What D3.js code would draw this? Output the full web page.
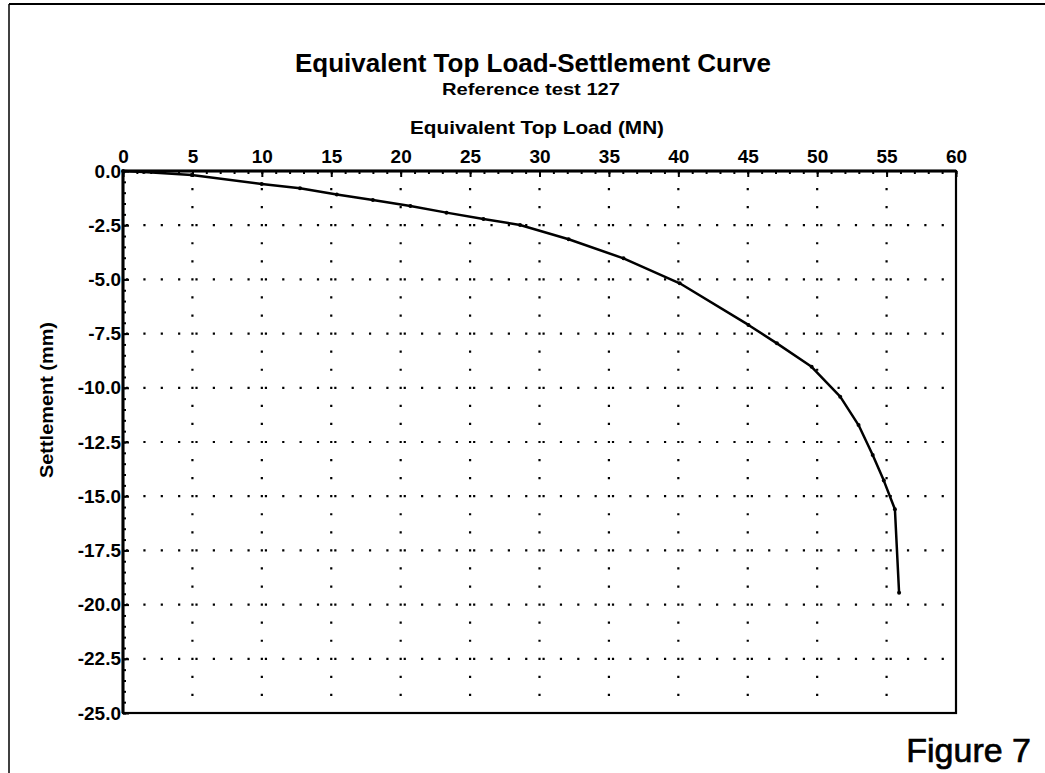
<!DOCTYPE html>
<html>
<head>
<meta charset="utf-8">
<script src="https://cdn.jsdelivr.net/npm/d3@7"></script>
<style>
  html, body { margin: 0; padding: 0; background: #fff; }
  svg { display: block; }
  text { font-family: "Liberation Sans", Arial, Helvetica, sans-serif; fill: #000; }
</style>
</head>
<body>
<svg id="chart" width="1045" height="773"></svg>
<script>
// ---- data ----
const loads       = [0, 1.5, 4.95, 9.99, 12.75, 15.4, 18.0, 20.7, 23.3, 25.96, 28.6, 32.1, 36.05, 40.1, 45.05, 47.1, 49.6, 51.66, 52.98, 54.0, 54.8, 55.6, 55.9];
const settlements = [0, -0.05, -0.18, -0.60, -0.80, -1.08, -1.34, -1.61, -1.92, -2.21, -2.49, -3.15, -4.03, -5.18, -7.10, -7.95, -9.03, -10.41, -11.72, -13.1, -14.28, -15.6, -19.45];
const xTicks = [0, 5, 10, 15, 20, 25, 30, 35, 40, 45, 50, 55, 60];
const yTicks = [0, -2.5, -5, -7.5, -10, -12.5, -15, -17.5, -20, -22.5, -25];
const xMinor = d3.range(0, 61, 1);
const yMinor = d3.range(0, -25.01, -0.5);
const titleText = "Equivalent Top Load-Settlement Curve";
const subtitleText = "Reference test 127";
const xTitle = "Equivalent Top Load (MN)";
const yTitle = "Settlement (mm)";
const figureText = "Figure 7";

const svg = d3.select("#chart");
const L = 123, R = 956, T = 171, B = 713;
const x = d3.scaleLinear().domain([0, 60]).range([L, R]);
const y = d3.scaleLinear().domain([0, -25]).range([T, B]);

// page border (scan frame)
svg.append("line").attr("x1", 9).attr("x2", 1045).attr("y1", 4).attr("y2", 4)
  .attr("stroke", "#000").attr("stroke-width", 2);
svg.append("line").attr("x1", 9).attr("x2", 9).attr("y1", 4).attr("y2", 773)
  .attr("stroke", "#000").attr("stroke-width", 1.5);

// titles
svg.append("text").attr("x", 533).attr("y", 72).attr("text-anchor", "middle")
  .attr("font-size", 25).attr("font-weight", "bold")
  .attr("textLength", 476).attr("lengthAdjust", "spacingAndGlyphs").text(titleText);
svg.append("text").attr("x", 531).attr("y", 95).attr("text-anchor", "middle")
  .attr("font-size", 16.5).attr("font-weight", "bold")
  .attr("textLength", 178).attr("lengthAdjust", "spacingAndGlyphs").text(subtitleText);
svg.append("text").attr("x", 537).attr("y", 134).attr("text-anchor", "middle")
  .attr("font-size", 18.5).attr("font-weight", "bold")
  .attr("textLength", 254).attr("lengthAdjust", "spacingAndGlyphs").text(xTitle);
svg.append("text").attr("transform", "translate(53,400) rotate(-90)").attr("text-anchor", "middle")
  .attr("font-size", 17.5).attr("font-weight", "bold")
  .attr("textLength", 156).attr("lengthAdjust", "spacingAndGlyphs").text(yTitle);

// dotted grid
const grid = svg.append("g");
grid.selectAll("line.v").data(xTicks.filter(d => d > 0 && d < 60)).join("line")
  .attr("x1", d => x(d)).attr("x2", d => x(d)).attr("y1", T).attr("y2", B)
  .attr("stroke", "#000").attr("stroke-width", 2.2)
  .attr("stroke-dasharray", "2.2," + ((B - T) / 30 - 2.2)).attr("stroke-dashoffset", 1.1);
grid.selectAll("line.h").data(yTicks.filter(d => d < 0 && d > -25)).join("line")
  .attr("x1", L).attr("x2", R).attr("y1", d => y(d)).attr("y2", d => y(d))
  .attr("stroke", "#000").attr("stroke-width", 2.2)
  .attr("stroke-dasharray", "2.2," + ((R - L) / 48 - 2.2)).attr("stroke-dashoffset", -3);

// frame
svg.append("rect").attr("x", L).attr("y", T).attr("width", R - L).attr("height", B - T)
  .attr("fill", "none").attr("stroke", "#000").attr("stroke-width", 2.2);
svg.append("line").attr("x1", L).attr("x2", R).attr("y1", T).attr("y2", T)
  .attr("stroke", "#000").attr("stroke-width", 3);
svg.append("line").attr("x1", L).attr("x2", L).attr("y1", T).attr("y2", B)
  .attr("stroke", "#000").attr("stroke-width", 3);

// axes
const fmtY = d => (Math.abs(d) < 1e-9 ? 0 : d).toFixed(1);
const xAxisMinor = d3.axisTop(x).tickValues(xMinor).tickSize(-3).tickFormat("");
const xAxis = d3.axisTop(x).tickValues(xTicks).tickSize(-6).tickPadding(8).tickFormat(d3.format("d"));
const yAxisMinor = d3.axisLeft(y).tickValues(yMinor).tickSize(-3).tickFormat("");
const yAxis = d3.axisLeft(y).tickValues(yTicks).tickSize(-6).tickPadding(2).tickFormat(fmtY);

function styleAxis(g) {
  g.select(".domain").remove();
  g.selectAll(".tick line").attr("stroke", "#000").attr("stroke-width", 2);
  g.selectAll(".tick text").attr("font-family", "Liberation Sans, Arial, sans-serif")
    .attr("font-size", 19).attr("font-weight", "bold").attr("fill", "#000");
}
svg.append("g").attr("transform", `translate(0,${T})`).call(xAxisMinor).call(styleAxis);
svg.append("g").attr("transform", `translate(0,${T})`).call(xAxis).call(styleAxis);
svg.append("g").attr("transform", `translate(0,${T})`).call(g => g.selectAll(".tick text").attr("dx", 2));
svg.append("g").attr("transform", `translate(${L},0)`).call(yAxisMinor).call(styleAxis);
svg.append("g").attr("transform", `translate(${L},0)`).call(yAxis).call(styleAxis);

// curve
const pts = loads.map((v, i) => [v, settlements[i]]);
const line = d3.line().x(d => x(d[0])).y(d => y(d[1]));
svg.append("path").datum(pts).attr("d", line)
  .attr("fill", "none").attr("stroke", "#000").attr("stroke-width", 2.5)
  .attr("stroke-linejoin", "round");
svg.selectAll("circle.pt").data(pts).join("circle")
  .attr("cx", d => x(d[0])).attr("cy", d => y(d[1])).attr("r", 2)
  .attr("fill", "#000");

// figure label
svg.append("text").attr("x", 1031).attr("y", 762).attr("text-anchor", "end")
  .attr("font-size", 34).attr("stroke", "#000").attr("stroke-width", 0.7)
  .text(figureText);
</script>
</body>
</html>
